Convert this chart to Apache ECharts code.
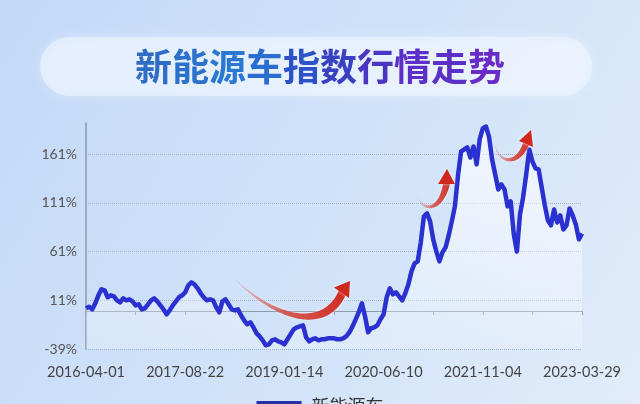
<!DOCTYPE html>
<html>
<head>
<meta charset="utf-8">
<script src="https://cdn.jsdelivr.net/npm/echarts@6/dist/echarts.min.js"></script>
<style>html,body{margin:0;padding:0;}#c{width:640px;height:404px;}</style>
</head>
<body>
<div id="c"></div>
<script>
const titleText = '新能源车指数行情走势';
const seriesName = '新能源车';
const xTickLabels = ['2016-04-01','2017-08-22','2019-01-14','2020-06-10','2021-11-04','2023-03-29'];
const yMin = -39, yMax = 193, yStep = 50;
const indexValues = [
 2.8,4.3,1.7,7.9,16.1,22.3,21.2,14.1,16.1,15.1,
 11.0,8.9,13.0,11.0,12.0,9.9,5.8,6.9,1.7,2.8,
 6.9,11.0,13.0,9.9,5.8,1.7,-3.4,0.7,5.8,9.9,
 14.1,16.1,19.2,26.4,29.4,27.4,23.3,18.2,14.1,11.0,
 12.0,11.0,3.8,-1.3,9.9,12.0,6.9,1.7,0.7,1.7,
 -4.4,-9.5,-13.6,-11.6,-16.7,-22.9,-25.9,-30.1,-35.2,-34.2,
 -30.1,-29.0,-31.1,-32.1,-34.2,-29.0,-23.9,-18.8,-16.7,-15.7,
 -14.7,-27.0,-31.1,-29.0,-28.0,-30.1,-29.0,-29.0,-28.0,-28.0,
 -28.0,-29.0,-29.0,-28.0,-25.9,-21.8,-15.7,-8.5,-1.3,7.9,
 -5.4,-21.8,-17.7,-16.7,-14.7,-8.5,-3.4,14.1,23.3,17.1,
 19.2,15.1,11.0,18.2,27.4,40.7,48.9,51.0,70.5,97.2,
 100.2,92.0,73.5,61.2,51.0,60.2,65.3,77.6,92.0,107.4,
 139.2,163.8,165.8,167.9,157.6,168.9,150.5,176.1,187.4,189.4,
 179.1,155.6,140.2,124.8,130.0,124.8,107.4,112.5,78.7,61.0,
 99.2,116.6,140.2,165.8,153.5,146.4,145.3,126.9,108.4,93.0,
 87.9,104.3,90.9,98.1,83.7,87.9,105.3,98.1,88.9,73.5,
 79.6
];
const titleColors = ['#2f6cc4','#2c72cc','#2a78d2','#2b6ed2','#2d52c8','#3a40c2','#4a36c2','#5c30c8','#5a30c6','#6a2cc8'];

const chart = echarts.init(document.getElementById('c'), null, {renderer:'canvas'});
const N = indexValues.length - 1;
const labelStep = N / (xTickLabels.length - 1);
const data = indexValues.map((v, i) => [i, v]);
const G = echarts.graphic;

const rich = {};
let titleRich = '';
titleText.split('').forEach((ch, i) => {
  rich['c' + i] = {color: titleColors[i], fontSize: 37, fontWeight: 'bold', fontFamily: 'Noto Sans CJK SC'};
  titleRich += '{c' + i + '|' + ch + '}';
});

function bez(p0, p1, p2, p3, n) {
  const pts = [];
  for (let k = 0; k <= n; k++) {
    const t = k / n, u = 1 - t;
    pts.push([
      u*u*u*p0[0] + 3*u*u*t*p1[0] + 3*u*t*t*p2[0] + t*t*t*p3[0],
      u*u*u*p0[1] + 3*u*u*t*p1[1] + 3*u*t*t*p2[1] + t*t*t*p3[1]
    ]);
  }
  return pts;
}
function arrow(top, bottom, head, x0, x1) {
  const a = bez(top[0], top[1], top[2], top[3], 30);
  const b = bez(bottom[0], bottom[1], bottom[2], bottom[3], 30);
  const pts = a.concat(b.reverse());
  const grad = new G.LinearGradient(x0, 0, x1, 0, [
    {offset: 0, color: 'rgba(210,70,60,0.15)'},
    {offset: 0.45, color: 'rgba(205,55,45,0.8)'},
    {offset: 1, color: '#d0281e'}
  ], true);
  return [
    {type: 'polygon', shape: {points: pts}, style: {fill: grad, shadowBlur: 3, shadowColor: 'rgba(255,255,255,0.7)'}, z: 50, silent: true},
    {type: 'polygon', shape: {points: head}, style: {fill: '#d0281e', shadowBlur: 3, shadowColor: 'rgba(255,255,255,0.7)'}, z: 50, silent: true}
  ];
}

const option = {
  animation: false,
  graphic: [
    {type: 'rect', shape: {x: 0, y: 0, width: 640, height: 404}, z: -100, silent: true,
     style: {fill: new G.LinearGradient(0, 0, 1, 1, [
       {offset: 0, color: '#c2d9f7'}, {offset: 0.6, color: '#d3e4f9'}, {offset: 1, color: '#e2ecfa'}])}},
    {type: 'rect', shape: {x: 40, y: 37, width: 552, height: 59, r: 29.5}, z: -90, silent: true,
     style: {fill: 'rgba(238,245,255,0.6)', shadowBlur: 8, shadowColor: 'rgba(255,255,255,0.5)'}},
    ...arrow([[233,277],[270,313],[322,331],[339,290]], [[233,277],[270,319],[326,339],[346,294.5]], [[350,281],[349,298],[334,287.5]], 233, 350),
    ...arrow([[418,197],[422,208],[438,212],[443,184]], [[418,197],[420,212],[442,216],[450,184]], [[447,169],[455,184],[438,184]], 418, 455),
    ...arrow([[495,142],[497,160],[515,166],[523,143]], [[495,142],[494,162],[517,172],[529,145]], [[531,130],[533,147],[519,141]], 495, 533)
  ],
  title: {
    text: titleRich,
    left: 'center',
    top: 43,
    textStyle: {rich: rich}
  },
  grid: {left: 86, right: 58, top: 123, bottom: 55, containLabel: false},
  legend: {
    data: [{name: seriesName, itemStyle: {color: '#2430a8'}}],
    left: 'center',
    top: 392,
    icon: 'rect',
    itemWidth: 45,
    itemHeight: 10,
    textStyle: {fontSize: 18, color: '#333', fontFamily: 'Noto Sans CJK SC', padding: [0, 0, 0, 5]}
  },
  xAxis: [
    {
      type: 'value', min: 0, max: N, interval: labelStep / 2, position: 'bottom',
      axisLine: {show: false, onZero: false}, axisTick: {show: false}, splitLine: {show: false},
      axisLabel: {
        margin: 16, color: '#444', fontSize: 14.5, fontFamily: 'Lato',
        formatter: v => (Math.round(v) % labelStep === 0 ? xTickLabels[Math.round(v) / labelStep] : '')
      }
    },
    {
      type: 'value', min: 0, max: N, interval: labelStep / 2, position: 'bottom',
      axisLine: {show: true, onZero: true, lineStyle: {color: '#8f9aaa', width: 1.2}},
      axisTick: {show: true, length: 4, lineStyle: {color: '#8f9aaa'}},
      axisLabel: {show: false}, splitLine: {show: false}
    }
  ],
  yAxis: {
    type: 'value', min: yMin, max: yMax, interval: yStep,
    axisLine: {show: true, lineStyle: {color: '#8f9aaa', width: 1.5}},
    axisTick: {show: false},
    axisLabel: {showMaxLabel: false, formatter: '{value}%', color: '#555', fontSize: 14, fontFamily: 'Lato', margin: 9},
    splitLine: {show: true, showMaxLine: false, lineStyle: {type: 'dotted', color: '#a6b4c8', width: 1}}
  },
  series: [{
    name: seriesName,
    type: 'line',
    xAxisIndex: 0,
    data: data,
    showSymbol: false,
    symbol: 'none',
    lineStyle: {color: '#2b30d0', width: 4.5, join: 'round'},
    itemStyle: {color: '#2b30d0'},
    areaStyle: {
      origin: 'start',
      color: new G.LinearGradient(0, 0, 0, 1, [
        {offset: 0, color: 'rgba(255,255,255,0.95)'},
        {offset: 1, color: 'rgba(255,255,255,0.3)'}])
    },
    z: 10
  }]
};
chart.setOption(option);
</script>
</body>
</html>
